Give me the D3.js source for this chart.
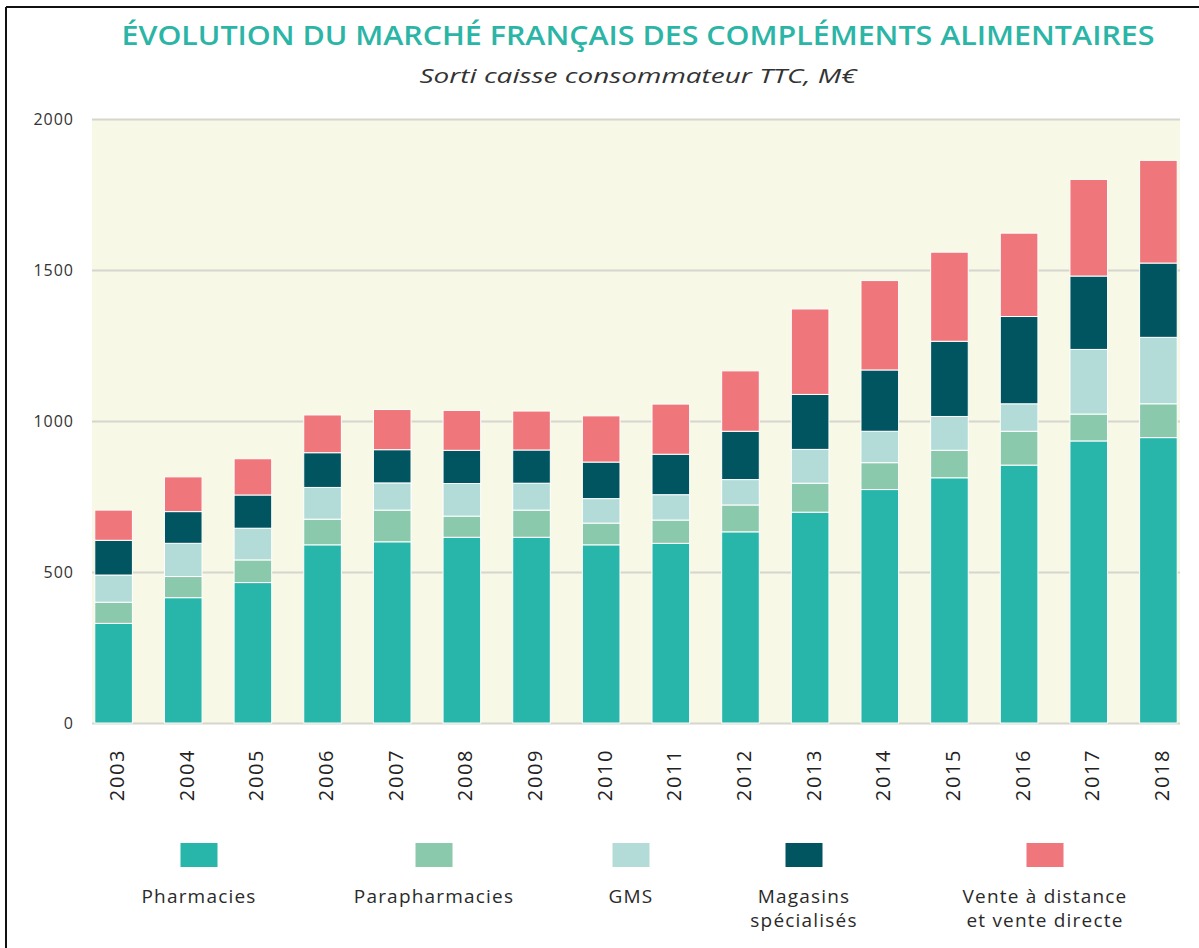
<!DOCTYPE html>
<html>
<head>
<meta charset="utf-8">
<script src="https://cdn.jsdelivr.net/npm/d3@7"></script>
<style>
  html, body { margin: 0; padding: 0; background: #ffffff; }
  svg { display: block; }
</style>
</head>
<body>
<script>
// ---- data ----
const years = ["2003","2004","2005","2006","2007","2008","2009","2010","2011","2012","2013","2014","2015","2016","2017","2018"];
const pharmacies     = [330, 415, 465, 590, 600, 615, 615, 590, 595, 633, 698, 773, 812, 854, 934, 945];
const parapharmacies = [ 70,  70,  75,  85, 105,  70,  90,  72,  77,  89,  96,  89,  91, 112,  89, 112];
const gms            = [ 90, 110, 105, 105,  90, 108,  89,  81,  84,  84, 112, 104, 112,  91, 214, 220];
const magasins       = [115, 105, 110, 115, 110, 110, 110, 121, 134, 160, 182, 203, 249, 289, 243, 246];
const venteDistance  = [100, 115, 120, 125, 133, 132, 129, 153, 166, 200, 283, 296, 295, 276, 320, 340];
const seriesNames = ["Pharmacies", "Parapharmacies", "GMS", "Magasins spécialisés", "Vente à distance et vente directe"];
const legendLines = [["Pharmacies"], ["Parapharmacies"], ["GMS"], ["Magasins", "spécialisés"], ["Vente à distance", "et vente directe"]];
const colors = ["#29b6aa", "#8bc9ad", "#b3dcd8", "#005561", "#ef777b"];
const yTicks = [0, 500, 1000, 1500, 2000];
const title = "ÉVOLUTION DU MARCHÉ FRANÇAIS DES COMPLÉMENTS ALIMENTAIRES";
const subtitle = "Sorti caisse consommateur TTC, M€";

const seriesValues = [pharmacies, parapharmacies, gms, magasins, venteDistance];
const keys = ["s0","s1","s2","s3","s4"];
const rows = years.map((y, i) => {
  const r = { year: y };
  keys.forEach((k, j) => r[k] = seriesValues[j][i]);
  return r;
});

const W = 1199, H = 948;
const svg = d3.select("body").append("svg").attr("width", W).attr("height", H);

// frame (top & left lines)
svg.append("line").attr("x1", 6).attr("x2", W).attr("y1", 7).attr("y2", 7)
  .attr("stroke", "#111").attr("stroke-width", 2);
svg.append("line").attr("x1", 6).attr("x2", 6).attr("y1", 7).attr("y2", H)
  .attr("stroke", "#111").attr("stroke-width", 2);

// titles
svg.append("text").attr("x", 638).attr("y", 45).attr("text-anchor", "middle")
  .attr("font-family", "Open Sans, Noto Sans, sans-serif").attr("font-weight", 600)
  .attr("font-size", 27).attr("fill", "#2bb5a6")
  .attr("textLength", 1033).attr("lengthAdjust", "spacingAndGlyphs")
  .text(title);
svg.append("text").attr("x", 638).attr("y", 83).attr("text-anchor", "middle")
  .attr("font-family", "Open Sans, Noto Sans, sans-serif").attr("font-style", "italic")
  .attr("font-size", 20).attr("fill", "#333")
  .attr("textLength", 437).attr("lengthAdjust", "spacingAndGlyphs")
  .text(subtitle);

// scales
const plotL = 92, plotR = 1180, plotT = 119, plotB = 723;
const x = d3.scaleBand().domain(years).range([plotL, plotR]).paddingInner(0.46).paddingOuter(0.04);
const y = d3.scaleLinear().domain([0, 2000]).range([plotB, plotT]);

// plot background
svg.append("rect").attr("x", plotL).attr("y", plotT).attr("width", plotR - plotL).attr("height", plotB - plotT)
  .attr("fill", "#f7f8e6");

// y axis (gridlines + labels)
const yAxis = d3.axisLeft(y).tickValues(yTicks).tickSize(-(plotR - plotL)).tickPadding(18)
  .tickFormat(d3.format("d"));
const gy = svg.append("g").attr("transform", `translate(${plotL},0)`).call(yAxis);
gy.select(".domain").remove();
gy.selectAll(".tick line").attr("stroke", "#d6d6ce").attr("stroke-width", 2);
gy.selectAll(".tick text").attr("font-family", "Open Sans, Noto Sans, sans-serif")
  .attr("font-size", 16).attr("fill", "#333").attr("letter-spacing", 1);

// stacked bars
const stack = d3.stack().keys(keys)(rows);
svg.append("g").selectAll("g").data(stack).join("g")
  .attr("fill", (d, i) => colors[i])
  .selectAll("rect").data(d => d).join("rect")
  .attr("x", d => x(d.data.year))
  .attr("width", x.bandwidth())
  .attr("y", d => y(d[1]))
  .attr("height", d => y(d[0]) - y(d[1]))
  .attr("stroke", "#ffffff").attr("stroke-width", 1);

// x axis labels
const xAxis = d3.axisBottom(x).tickSize(0).tickPadding(0);
const gx = svg.append("g").attr("transform", `translate(0,${plotB})`).call(xAxis);
gx.select(".domain").remove();
gx.selectAll(".tick text")
  .attr("font-family", "Open Sans, Noto Sans, sans-serif")
  .attr("font-size", 20).attr("fill", "#222").attr("letter-spacing", 1.6)
  .attr("text-anchor", "end")
  .attr("dy", null).attr("y", 0)
  .attr("transform", "translate(3,26) rotate(-90)")
  .attr("dominant-baseline", "central");

// legend
const legendCenters = [199, 434, 631, 804, 1045];
const lg = svg.append("g").selectAll("g").data(seriesNames).join("g")
  .attr("transform", (d, i) => `translate(${legendCenters[i]},0)`);
lg.append("rect").attr("x", -18.5).attr("y", 843).attr("width", 37).attr("height", 24)
  .attr("fill", (d, i) => colors[i]);
lg.each(function(d, i) {
  const g = d3.select(this);
  legendLines[i].forEach((line, k) => {
    g.append("text").attr("x", 0).attr("y", 903 + k * 24)
      .attr("text-anchor", "middle")
      .attr("font-family", "Open Sans, Noto Sans, sans-serif")
      .attr("font-size", 19).attr("fill", "#2a2a2a").attr("letter-spacing", 1.2)
      .text(line);
  });
});
</script>
</body>
</html>
